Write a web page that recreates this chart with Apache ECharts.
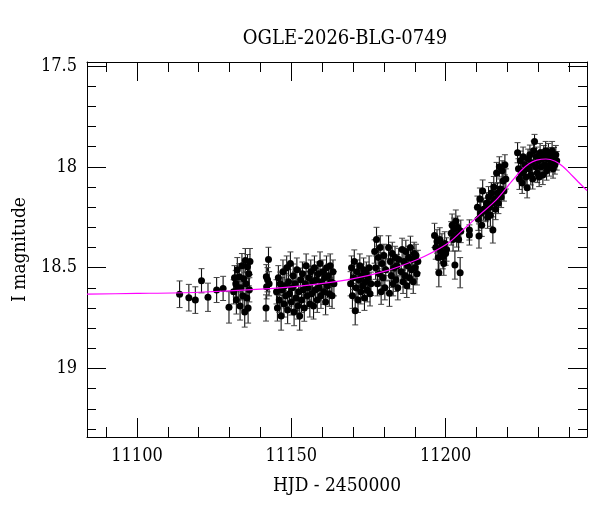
<!DOCTYPE html>
<html>
<head>
<meta charset="utf-8">
<script src="https://cdn.jsdelivr.net/npm/echarts@6/dist/echarts.min.js"></script>
<style>
  html, body { margin: 0; padding: 0; background: #fff; }
  #chart { width: 600px; height: 512px; }
</style>
</head>
<body>
<div id="chart"></div>
<script>
// photometry points (HJD - 2450000, I mag, error)
var hjd = [
    // sparse baseline
    11113.8, 11116.8, 11118.9, 11120.9, 11123.0, 11125.8, 11127.9, 11129.8,
    // 11131-11137
    11131.3, 11131.6, 11132.0, 11132.2, 11132.5, 11132.8, 11133.1, 11133.4, 11133.7, 11134.0, 11134.3,
    11134.6, 11134.9, 11135.1, 11135.3, 11135.6, 11135.8, 11136.0, 11136.2, 11136.4, 11136.6,
    // 11141-11143
    11142.6, 11141.9, 11142.0, 11141.8, 11142.3, 11142.8,
    // 11145-11164
    11145.2, 11145.5, 11145.8, 11146.1, 11146.4, 11146.7, 11147.0, 11147.3, 11147.6, 11147.9,
    11148.2, 11148.5, 11148.8, 11149.1, 11149.4, 11149.7, 11150.0, 11150.3, 11150.6, 11150.9,
    11151.2, 11151.5, 11151.8, 11152.1, 11152.4, 11152.7, 11153.0, 11153.3, 11153.6, 11153.9,
    11154.2, 11154.5, 11154.8, 11155.1, 11155.4, 11155.7, 11156.0, 11156.3, 11156.6, 11156.9,
    11157.2, 11157.5, 11157.8, 11158.1, 11158.4, 11158.7, 11159.0, 11159.3, 11159.6, 11159.9,
    11160.2, 11160.5, 11160.8, 11161.1, 11161.4, 11161.7, 11162.0, 11162.3, 11162.6, 11162.9,
    11163.2, 11163.5, 11163.8,
    // 11169-11176
    11169.2, 11169.5, 11169.8, 11170.1, 11170.4, 11170.7, 11171.0, 11171.3, 11171.6, 11171.9,
    11172.2, 11172.5, 11172.8, 11173.1, 11173.4, 11173.7, 11174.0, 11174.3, 11174.6, 11174.9,
    11175.2, 11175.5, 11175.8,
    // 11177-11191
    11177.0, 11177.3, 11177.6, 11177.9, 11178.2, 11178.5, 11178.8, 11179.1, 11179.4, 11179.7,
    11180.0, 11180.3, 11180.6, 11181.5, 11181.8, 11182.1, 11182.4, 11182.7, 11183.0, 11183.3,
    11183.6, 11183.9, 11184.2, 11184.5, 11184.8, 11185.6, 11185.9, 11186.2, 11186.5, 11186.8,
    11187.1, 11187.4, 11187.7, 11188.0, 11188.3, 11188.6, 11188.9, 11189.2, 11189.5, 11189.8,
    11190.1, 11190.4, 11190.7, 11191.0,
    // 11196-11200
    11196.4, 11196.8, 11197.2, 11197.6, 11197.8, 11198.1, 11198.4, 11198.8, 11199.1, 11199.4,
    11199.7, 11200.0, 11200.3,
    // 11201-11208
    11201.8, 11202.1, 11202.4, 11202.7, 11203.0, 11203.3, 11203.6, 11203.9, 11204.2, 11204.7,
    11204.9, 11207.7, 11207.7,
    // 11210-11220
    11210.3, 11210.6, 11210.8, 11211.1, 11211.4, 11211.7, 11212.0, 11212.3,
    11213.0, 11213.3, 11213.6, 11213.9, 11214.2, 11214.5, 11214.8, 11215.1, 11215.3, 11215.6,
    11215.9, 11216.2, 11216.5, 11216.8, 11217.1, 11217.4, 11217.7, 11218.0, 11218.3, 11218.6,
    11218.9, 11219.2, 11219.5,
    // peak 11223-11236
    11223.3, 11223.6, 11223.9, 11224.2, 11224.5, 11224.8, 11225.1, 11225.4, 11225.7, 11226.0,
    11226.4, 11226.7, 11227.0, 11227.3, 11227.6, 11227.9, 11228.2, 11228.5, 11228.8, 11229.1,
    11229.4, 11229.7, 11230.0, 11230.3, 11230.6, 11230.9, 11231.2, 11231.5, 11231.8, 11232.1,
    11232.4, 11232.7, 11233.0, 11233.3, 11233.6, 11233.9, 11234.2, 11234.5, 11234.8, 11235.1,
    11235.4, 11235.7, 11236.0
];
var mag = [
    18.632, 18.649, 18.661, 18.565, 18.647, 18.611, 18.603, 18.697,
    18.62, 18.55, 18.58, 18.66, 18.51, 18.60, 18.545, 18.69, 18.60, 18.49, 18.64,
    18.555, 18.72, 18.465, 18.58, 18.65, 18.495, 18.70, 18.53, 18.61, 18.47,
    18.459, 18.545, 18.595, 18.70, 18.56, 18.58,
    18.62, 18.70, 18.55, 18.66, 18.58, 18.74, 18.61, 18.52, 18.68, 18.59,
    18.64, 18.50, 18.71, 18.57, 18.63, 18.48, 18.67, 18.60, 18.54, 18.72,
    18.58, 18.65, 18.51, 18.69, 18.62, 18.74, 18.56, 18.66, 18.53, 18.61,
    18.70, 18.58, 18.49, 18.64, 18.60, 18.55, 18.68, 18.52, 18.63, 18.57,
    18.69, 18.50, 18.61, 18.56, 18.66, 18.53, 18.60, 18.48, 18.64, 18.57,
    18.52, 18.62, 18.55, 18.67, 18.50, 18.59, 18.54, 18.63, 18.49, 18.57,
    18.64, 18.52, 18.58,
    18.58, 18.50, 18.64, 18.55, 18.47, 18.714, 18.60, 18.52, 18.66, 18.56,
    18.49, 18.62, 18.54, 18.59, 18.51, 18.65, 18.57, 18.53, 18.61, 18.55,
    18.50, 18.63, 18.58,
    18.42, 18.50, 18.36, 18.58, 18.45, 18.53, 18.40, 18.62, 18.48, 18.55,
    18.44, 18.60, 18.51, 18.40, 18.627, 18.47, 18.54, 18.43, 18.58, 18.50,
    18.45, 18.56, 18.49, 18.60, 18.46, 18.52, 18.41, 18.57, 18.47, 18.54,
    18.42, 18.59, 18.49, 18.45, 18.55, 18.40, 18.51, 18.46, 18.57, 18.43,
    18.50, 18.44, 18.53, 18.47,
    18.34, 18.40, 18.37, 18.45, 18.525, 18.36, 18.42, 18.39, 18.446, 18.48,
    18.38, 18.43, 18.41,
    18.33, 18.29, 18.36, 18.31, 18.487, 18.27, 18.34, 18.30, 18.36, 18.525,
    18.32, 18.313, 18.338,
    18.20, 18.26, 18.343, 18.16, 18.23, 18.29, 18.12, 18.21,
    18.22, 18.18, 18.25, 18.15, 18.20, 18.24, 18.13, 18.18, 18.313, 18.10,
    18.16, 18.21, 18.03, 18.13, 18.18, 18.00, 18.11, 18.15, 18.02, 18.07,
    18.12, 17.99, 18.06,
    17.93, 18.01, 18.06, 17.97, 18.03, 18.08, 17.95, 18.02, 17.99, 18.05,
    18.104, 17.96, 18.01, 17.94, 18.04, 17.98, 18.06, 17.92, 17.874, 18.00,
    17.95, 18.03, 17.97, 18.05, 17.93, 18.00, 17.96, 18.04, 17.94, 17.99,
    17.92, 18.02, 17.96, 17.93, 18.00, 17.95, 17.98, 17.92, 18.01, 17.95,
    17.99, 17.94, 17.97
];
var magErr = [
    0.066, 0.066, 0.066, 0.060, 0.070, 0.062, 0.060, 0.078,
    0.060, 0.060, 0.065, 0.070, 0.060, 0.060, 0.065, 0.070, 0.060, 0.060, 0.070,
    0.060, 0.075, 0.060, 0.060, 0.065, 0.060, 0.075, 0.060, 0.060, 0.065,
    0.060, 0.060, 0.060, 0.065, 0.060, 0.060,
    0.060, 0.065, 0.060, 0.062, 0.058, 0.070, 0.060, 0.058, 0.065, 0.060,
    0.062, 0.058, 0.068, 0.060, 0.062, 0.058, 0.065, 0.060, 0.058, 0.068,
    0.060, 0.062, 0.058, 0.065, 0.060, 0.070, 0.058, 0.062, 0.058, 0.060,
    0.066, 0.060, 0.058, 0.062, 0.060, 0.058, 0.065, 0.058, 0.062, 0.060,
    0.065, 0.058, 0.060, 0.058, 0.062, 0.058, 0.060, 0.058, 0.062, 0.060,
    0.058, 0.062, 0.058, 0.064, 0.058, 0.060, 0.058, 0.062, 0.058, 0.060,
    0.062, 0.058, 0.060,
    0.060, 0.058, 0.062, 0.058, 0.058, 0.070, 0.060, 0.058, 0.062, 0.058,
    0.058, 0.060, 0.058, 0.060, 0.058, 0.062, 0.058, 0.058, 0.060, 0.058,
    0.058, 0.060, 0.058,
    0.058, 0.058, 0.060, 0.060, 0.056, 0.058, 0.058, 0.062, 0.056, 0.058,
    0.056, 0.060, 0.056, 0.058, 0.065, 0.056, 0.058, 0.056, 0.060, 0.056,
    0.056, 0.058, 0.056, 0.060, 0.056, 0.056, 0.056, 0.058, 0.056, 0.056,
    0.056, 0.058, 0.056, 0.056, 0.056, 0.056, 0.056, 0.056, 0.058, 0.056,
    0.056, 0.056, 0.056, 0.056,
    0.060, 0.058, 0.058, 0.058, 0.070, 0.058, 0.058, 0.058, 0.060, 0.058,
    0.058, 0.058, 0.058,
    0.058, 0.056, 0.058, 0.056, 0.070, 0.056, 0.058, 0.056, 0.058, 0.075,
    0.056, 0.050, 0.050,
    0.055, 0.055, 0.060, 0.055, 0.055, 0.055, 0.055, 0.055,
    0.052, 0.052, 0.055, 0.052, 0.052, 0.055, 0.052, 0.052, 0.065, 0.052,
    0.052, 0.052, 0.052, 0.052, 0.052, 0.050, 0.050, 0.052, 0.050, 0.050,
    0.050, 0.050, 0.050,
    0.050, 0.050, 0.052, 0.048, 0.050, 0.052, 0.048, 0.050, 0.048, 0.050,
    0.050, 0.048, 0.048, 0.048, 0.050, 0.048, 0.050, 0.048, 0.035, 0.048,
    0.048, 0.048, 0.046, 0.048, 0.046, 0.046, 0.046, 0.048, 0.046, 0.046,
    0.046, 0.046, 0.046, 0.046, 0.046, 0.046, 0.046, 0.046, 0.046, 0.046,
    0.046, 0.046, 0.046
];

// model light curve
var modelHjd = [11083.8, 11100, 11120, 11140, 11155, 11169, 11181, 11190.5, 11195, 11201,
    11205.6, 11211, 11216.4, 11221.8, 11224.5, 11227, 11229.5, 11232.5, 11235.5, 11238,
    11240.5, 11243, 11245.8];
var modelMag = [18.631, 18.628, 18.622, 18.607, 18.588, 18.558, 18.515, 18.462, 18.43, 18.376,
    18.313, 18.238, 18.164, 18.065, 18.018, 17.985, 17.967, 17.961, 17.972, 17.998,
    18.036, 18.075, 18.118];

// ticks
var xMajor = [11100, 11150, 11200];
var xMinor = [11090, 11110, 11120, 11130, 11140, 11160, 11170, 11180, 11190, 11210, 11220, 11230, 11240];
var yMajor = [17.5, 18, 18.5, 19];
var yMinor = [17.6, 17.7, 17.8, 17.9, 18.1, 18.2, 18.3, 18.4, 18.6, 18.7, 18.8, 18.9, 19.1, 19.2, 19.3];

var X_MIN = 11083.8, X_MAX = 11245.8;
var Y_MIN = 17.48, Y_MAX = 19.34;
var FONT = "'DejaVu Serif Condensed', 'Liberation Serif', serif";

var points = hjd.map(function (t, i) { return [t, mag[i]]; });
var bars = hjd.map(function (t, i) { return [t, mag[i] - magErr[i], mag[i] + magErr[i]]; });
var model = modelHjd.map(function (t, i) { return [t, modelMag[i]]; });

function xAxisDef(pos, ticks, len, main) {
    return {
        type: 'value', position: pos, min: X_MIN, max: X_MAX,
        axisLine: { show: main, onZero: false, lineStyle: { color: '#000', width: 1 } },
        axisTick: { show: true, inside: true, length: len, customValues: ticks, lineStyle: { color: '#000' } },
        axisLabel: { show: main && pos === 'bottom', customValues: ticks, margin: 10,
            formatter: function (v) { return String(v); },
            color: '#000', fontSize: 18, fontFamily: FONT },
        splitLine: { show: false },
        name: (main && pos === 'bottom') ? 'HJD - 2450000' : '',
        nameLocation: 'middle', nameGap: 40,
        nameTextStyle: { color: '#000', fontSize: 19, fontFamily: FONT }
    };
}
function yAxisDef(pos, ticks, len, main) {
    return {
        type: 'value', position: pos, inverse: true, min: Y_MIN, max: Y_MAX,
        axisLine: { show: main, onZero: false, lineStyle: { color: '#000', width: 1 } },
        axisTick: { show: true, inside: true, length: len, customValues: ticks, lineStyle: { color: '#000' } },
        axisLabel: { show: main && pos === 'left', customValues: ticks, margin: 10,
            color: '#000', fontSize: 18, fontFamily: FONT },
        splitLine: { show: false },
        name: (main && pos === 'left') ? 'I magnitude' : '',
        nameLocation: 'middle', nameGap: 57,
        nameTextStyle: { color: '#000', fontSize: 19, fontFamily: FONT }
    };
}

var myChart = echarts.init(document.getElementById('chart'), null, { renderer: 'canvas' });
myChart.setOption({
    backgroundColor: '#fff',
    animation: false,
    title: {
        text: 'OGLE-2026-BLG-0749',
        left: 340, top: 24, textAlign: 'center',
        textStyle: { color: '#000', fontSize: 20, fontWeight: 'normal', fontFamily: FONT }
    },
    grid: { left: 87, top: 62, width: 500, height: 375 },
    xAxis: [
        xAxisDef('bottom', xMajor, 19, true),
        xAxisDef('bottom', xMinor, 10, false),
        xAxisDef('top', xMajor, 19, true),
        xAxisDef('top', xMinor, 10, false)
    ],
    yAxis: [
        yAxisDef('left', yMajor, 19, true),
        yAxisDef('left', yMinor, 9, false),
        yAxisDef('right', yMajor, 19, true),
        yAxisDef('right', yMinor, 9, false)
    ],
    series: [{
        // error bars
        type: 'custom',
        xAxisIndex: 0, yAxisIndex: 0,
        data: bars,
        encode: { x: 0, y: [1, 2] },
        silent: true,
        z: 2,
        renderItem: function (params, api) {
            var top = api.coord([api.value(0), api.value(1)]);
            var bot = api.coord([api.value(0), api.value(2)]);
            var w = 3;
            var st = { stroke: '#111', lineWidth: 1.1 };
            var cap = { stroke: '#444', lineWidth: 1 };
            return {
                type: 'group',
                children: [
                    { type: 'line', shape: { x1: top[0], y1: top[1], x2: bot[0], y2: bot[1] }, style: st },
                    { type: 'line', shape: { x1: top[0] - w, y1: top[1], x2: top[0] + w, y2: top[1] }, style: cap },
                    { type: 'line', shape: { x1: bot[0] - w, y1: bot[1], x2: bot[0] + w, y2: bot[1] }, style: cap }
                ]
            };
        }
    }, {
        type: 'scatter',
        xAxisIndex: 0, yAxisIndex: 0,
        data: points,
        symbol: 'circle',
        symbolSize: 7,
        itemStyle: { color: '#000', opacity: 1 },
        silent: true,
        z: 3
    }, {
        type: 'line',
        xAxisIndex: 0, yAxisIndex: 0,
        data: model,
        smooth: 0.3,
        showSymbol: false,
        lineStyle: { color: '#ff00ff', width: 1.2 },
        silent: true,
        z: 4
    }]
});
</script>
</body>
</html>
